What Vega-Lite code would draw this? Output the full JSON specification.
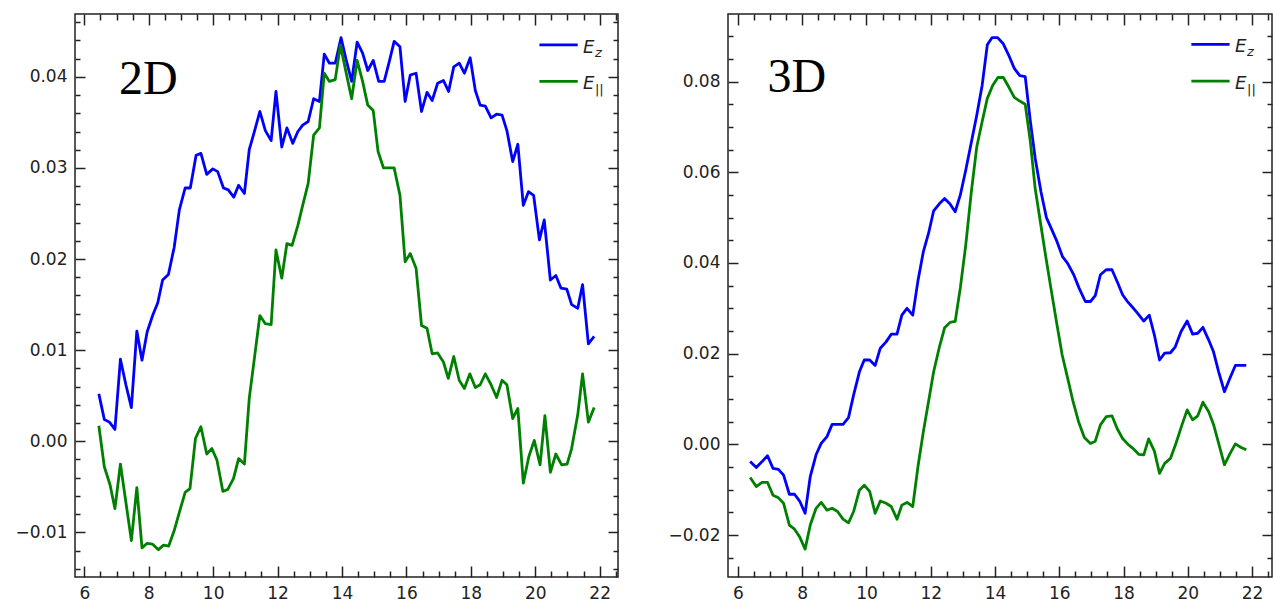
{
"$schema":"https://vega.github.io/schema/vega-lite/v6.json",
"padding":{"left":14,"top":12,"right":0,"bottom":0},
"spacing":47,
"background":"white",
"config":{"view":{"stroke":"#222","strokeWidth":1.5},"axis":{"domain":false,"grid":false,"tickColor":"#222","tickWidth":1.5,"labelFont":"DejaVu Sans","labelFontSize":17,"labelColor":"#222","labelFlush":false,"labelOverlap":false}},
"datasets":{
"d2":[
{"x":6.45,"s":"Ez","y":0.0052},{"x":6.62,"s":"Ez","y":0.0024},{"x":6.78,"s":"Ez","y":0.0021},{"x":6.95,"s":"Ez","y":0.0013},{"x":7.12,"s":"Ez","y":0.009},{"x":7.29,"s":"Ez","y":0.0062},{"x":7.46,"s":"Ez","y":0.0037},{"x":7.63,"s":"Ez","y":0.0121},{"x":7.79,"s":"Ez","y":0.0089},{"x":7.95,"s":"Ez","y":0.012},{"x":8.12,"s":"Ez","y":0.0138},{"x":8.28,"s":"Ez","y":0.0152},{"x":8.43,"s":"Ez","y":0.0177},{"x":8.61,"s":"Ez","y":0.0183},{"x":8.79,"s":"Ez","y":0.0213},{"x":8.95,"s":"Ez","y":0.0254},{"x":9.13,"s":"Ez","y":0.0278},{"x":9.29,"s":"Ez","y":0.0278},{"x":9.47,"s":"Ez","y":0.0314},{"x":9.62,"s":"Ez","y":0.0316},{"x":9.8,"s":"Ez","y":0.0293},{"x":9.99,"s":"Ez","y":0.0299},{"x":10.14,"s":"Ez","y":0.0296},{"x":10.32,"s":"Ez","y":0.0278},{"x":10.47,"s":"Ez","y":0.0276},{"x":10.64,"s":"Ez","y":0.0268},{"x":10.79,"s":"Ez","y":0.0281},{"x":10.97,"s":"Ez","y":0.0272},{"x":11.12,"s":"Ez","y":0.032},{"x":11.28,"s":"Ez","y":0.034},{"x":11.45,"s":"Ez","y":0.0362},{"x":11.62,"s":"Ez","y":0.0341},{"x":11.8,"s":"Ez","y":0.033},{"x":11.95,"s":"Ez","y":0.0384},{"x":12.13,"s":"Ez","y":0.0323},{"x":12.29,"s":"Ez","y":0.0344},{"x":12.47,"s":"Ez","y":0.0327},{"x":12.63,"s":"Ez","y":0.034},{"x":12.78,"s":"Ez","y":0.0347},{"x":12.95,"s":"Ez","y":0.0351},{"x":13.12,"s":"Ez","y":0.0376},{"x":13.3,"s":"Ez","y":0.0373},{"x":13.45,"s":"Ez","y":0.0425},{"x":13.61,"s":"Ez","y":0.0415},{"x":13.79,"s":"Ez","y":0.0415},{"x":13.97,"s":"Ez","y":0.0443},{"x":14.12,"s":"Ez","y":0.042},{"x":14.3,"s":"Ez","y":0.0395},{"x":14.47,"s":"Ez","y":0.0438},{"x":14.64,"s":"Ez","y":0.0426},{"x":14.8,"s":"Ez","y":0.0407},{"x":14.97,"s":"Ez","y":0.0418},{"x":15.14,"s":"Ez","y":0.0395},{"x":15.31,"s":"Ez","y":0.0395},{"x":15.47,"s":"Ez","y":0.0417},{"x":15.62,"s":"Ez","y":0.0439},{"x":15.8,"s":"Ez","y":0.0433},{"x":15.96,"s":"Ez","y":0.0373},{"x":16.12,"s":"Ez","y":0.0402},{"x":16.3,"s":"Ez","y":0.0404},{"x":16.47,"s":"Ez","y":0.0362},{"x":16.64,"s":"Ez","y":0.0383},{"x":16.8,"s":"Ez","y":0.0374},{"x":16.97,"s":"Ez","y":0.0393},{"x":17.15,"s":"Ez","y":0.0396},{"x":17.31,"s":"Ez","y":0.0384},{"x":17.47,"s":"Ez","y":0.0411},{"x":17.64,"s":"Ez","y":0.0415},{"x":17.8,"s":"Ez","y":0.0404},{"x":17.98,"s":"Ez","y":0.0421},{"x":18.14,"s":"Ez","y":0.0385},{"x":18.29,"s":"Ez","y":0.0369},{"x":18.45,"s":"Ez","y":0.0368},{"x":18.63,"s":"Ez","y":0.0355},{"x":18.8,"s":"Ez","y":0.0359},{"x":18.97,"s":"Ez","y":0.0358},{"x":19.12,"s":"Ez","y":0.0341},{"x":19.3,"s":"Ez","y":0.0307},{"x":19.46,"s":"Ez","y":0.0326},{"x":19.63,"s":"Ez","y":0.0259},{"x":19.79,"s":"Ez","y":0.0274},{"x":19.95,"s":"Ez","y":0.027},{"x":20.13,"s":"Ez","y":0.0221},{"x":20.28,"s":"Ez","y":0.0243},{"x":20.47,"s":"Ez","y":0.0177},{"x":20.64,"s":"Ez","y":0.0182},{"x":20.8,"s":"Ez","y":0.0168},{"x":20.98,"s":"Ez","y":0.0167},{"x":21.13,"s":"Ez","y":0.015},{"x":21.32,"s":"Ez","y":0.0146},{"x":21.47,"s":"Ez","y":0.0172},{"x":21.65,"s":"Ez","y":0.0107},{"x":21.83,"s":"Ez","y":0.0115},
{"x":6.45,"s":"Ep","y":0.0017},{"x":6.62,"s":"Ep","y":-0.0028},{"x":6.8,"s":"Ep","y":-0.0048},{"x":6.95,"s":"Ep","y":-0.0074},{"x":7.12,"s":"Ep","y":-0.0025},{"x":7.29,"s":"Ep","y":-0.0067},{"x":7.46,"s":"Ep","y":-0.0109},{"x":7.63,"s":"Ep","y":-0.0051},{"x":7.79,"s":"Ep","y":-0.0117},{"x":7.95,"s":"Ep","y":-0.0112},{"x":8.12,"s":"Ep","y":-0.0113},{"x":8.3,"s":"Ep","y":-0.0119},{"x":8.46,"s":"Ep","y":-0.0114},{"x":8.62,"s":"Ep","y":-0.0115},{"x":8.79,"s":"Ep","y":-0.0098},{"x":8.95,"s":"Ep","y":-0.0078},{"x":9.13,"s":"Ep","y":-0.0056},{"x":9.28,"s":"Ep","y":-0.0052},{"x":9.45,"s":"Ep","y":0.0003},{"x":9.62,"s":"Ep","y":0.0016},{"x":9.8,"s":"Ep","y":-0.0014},{"x":9.96,"s":"Ep","y":-0.0008},{"x":10.12,"s":"Ep","y":-0.0021},{"x":10.3,"s":"Ep","y":-0.0055},{"x":10.45,"s":"Ep","y":-0.0053},{"x":10.63,"s":"Ep","y":-0.0041},{"x":10.79,"s":"Ep","y":-0.0019},{"x":10.97,"s":"Ep","y":-0.0025},{"x":11.12,"s":"Ep","y":0.0047},{"x":11.28,"s":"Ep","y":0.0091},{"x":11.45,"s":"Ep","y":0.0138},{"x":11.62,"s":"Ep","y":0.0129},{"x":11.8,"s":"Ep","y":0.0128},{"x":11.95,"s":"Ep","y":0.021},{"x":12.13,"s":"Ep","y":0.0179},{"x":12.29,"s":"Ep","y":0.0217},{"x":12.45,"s":"Ep","y":0.0215},{"x":12.63,"s":"Ep","y":0.0237},{"x":12.78,"s":"Ep","y":0.0259},{"x":12.95,"s":"Ep","y":0.0283},{"x":13.12,"s":"Ep","y":0.0336},{"x":13.3,"s":"Ep","y":0.0344},{"x":13.45,"s":"Ep","y":0.0404},{"x":13.61,"s":"Ep","y":0.0395},{"x":13.79,"s":"Ep","y":0.0397},{"x":13.95,"s":"Ep","y":0.0435},{"x":14.12,"s":"Ep","y":0.0406},{"x":14.3,"s":"Ep","y":0.0376},{"x":14.47,"s":"Ep","y":0.0418},{"x":14.64,"s":"Ep","y":0.0395},{"x":14.8,"s":"Ep","y":0.0369},{"x":14.97,"s":"Ep","y":0.0363},{"x":15.12,"s":"Ep","y":0.0318},{"x":15.29,"s":"Ep","y":0.03},{"x":15.47,"s":"Ep","y":0.03},{"x":15.62,"s":"Ep","y":0.03},{"x":15.8,"s":"Ep","y":0.027},{"x":15.96,"s":"Ep","y":0.0197},{"x":16.12,"s":"Ep","y":0.0206},{"x":16.3,"s":"Ep","y":0.019},{"x":16.47,"s":"Ep","y":0.0127},{"x":16.64,"s":"Ep","y":0.0124},{"x":16.8,"s":"Ep","y":0.0096},{"x":16.97,"s":"Ep","y":0.0097},{"x":17.15,"s":"Ep","y":0.0087},{"x":17.3,"s":"Ep","y":0.0069},{"x":17.47,"s":"Ep","y":0.0093},{"x":17.64,"s":"Ep","y":0.0067},{"x":17.8,"s":"Ep","y":0.0058},{"x":17.97,"s":"Ep","y":0.0074},{"x":18.14,"s":"Ep","y":0.0059},{"x":18.29,"s":"Ep","y":0.0062},{"x":18.45,"s":"Ep","y":0.0074},{"x":18.63,"s":"Ep","y":0.0062},{"x":18.8,"s":"Ep","y":0.0048},{"x":18.97,"s":"Ep","y":0.0067},{"x":19.12,"s":"Ep","y":0.0062},{"x":19.3,"s":"Ep","y":0.0025},{"x":19.46,"s":"Ep","y":0.0036},{"x":19.63,"s":"Ep","y":-0.0046},{"x":19.8,"s":"Ep","y":-0.0017},{"x":19.97,"s":"Ep","y":0.0001},{"x":20.15,"s":"Ep","y":-0.0026},{"x":20.3,"s":"Ep","y":0.0028},{"x":20.47,"s":"Ep","y":-0.0034},{"x":20.64,"s":"Ep","y":-0.0014},{"x":20.82,"s":"Ep","y":-0.0026},{"x":20.99,"s":"Ep","y":-0.0025},{"x":21.13,"s":"Ep","y":-0.0008},{"x":21.32,"s":"Ep","y":0.0029},{"x":21.47,"s":"Ep","y":0.0074},{"x":21.65,"s":"Ep","y":0.0021},{"x":21.83,"s":"Ep","y":0.0037}
],
"d3":[
{"x":6.38,"s":"Ez","y":-0.0038},{"x":6.57,"s":"Ez","y":-0.0051},{"x":6.75,"s":"Ez","y":-0.0038},{"x":6.92,"s":"Ez","y":-0.0025},{"x":7.09,"s":"Ez","y":-0.0053},{"x":7.26,"s":"Ez","y":-0.0055},{"x":7.42,"s":"Ez","y":-0.0068},{"x":7.6,"s":"Ez","y":-0.011},{"x":7.76,"s":"Ez","y":-0.011},{"x":7.92,"s":"Ez","y":-0.0125},{"x":8.09,"s":"Ez","y":-0.0152},{"x":8.25,"s":"Ez","y":-0.0071},{"x":8.43,"s":"Ez","y":-0.0023},{"x":8.59,"s":"Ez","y":0.0002},{"x":8.77,"s":"Ez","y":0.0017},{"x":8.93,"s":"Ez","y":0.0044},{"x":9.1,"s":"Ez","y":0.0044},{"x":9.27,"s":"Ez","y":0.0044},{"x":9.44,"s":"Ez","y":0.0059},{"x":9.6,"s":"Ez","y":0.0109},{"x":9.78,"s":"Ez","y":0.016},{"x":9.93,"s":"Ez","y":0.0186},{"x":10.1,"s":"Ez","y":0.0186},{"x":10.27,"s":"Ez","y":0.0174},{"x":10.43,"s":"Ez","y":0.0212},{"x":10.61,"s":"Ez","y":0.0226},{"x":10.77,"s":"Ez","y":0.0243},{"x":10.95,"s":"Ez","y":0.0243},{"x":11.1,"s":"Ez","y":0.0285},{"x":11.26,"s":"Ez","y":0.03},{"x":11.44,"s":"Ez","y":0.0285},{"x":11.6,"s":"Ez","y":0.036},{"x":11.77,"s":"Ez","y":0.0425},{"x":11.93,"s":"Ez","y":0.0465},{"x":12.09,"s":"Ez","y":0.0515},{"x":12.26,"s":"Ez","y":0.053},{"x":12.43,"s":"Ez","y":0.0542},{"x":12.6,"s":"Ez","y":0.053},{"x":12.76,"s":"Ez","y":0.0513},{"x":12.92,"s":"Ez","y":0.055},{"x":13.09,"s":"Ez","y":0.0605},{"x":13.26,"s":"Ez","y":0.0665},{"x":13.43,"s":"Ez","y":0.0725},{"x":13.6,"s":"Ez","y":0.0792},{"x":13.76,"s":"Ez","y":0.0881},{"x":13.91,"s":"Ez","y":0.0897},{"x":14.08,"s":"Ez","y":0.0897},{"x":14.25,"s":"Ez","y":0.0884},{"x":14.42,"s":"Ez","y":0.0859},{"x":14.6,"s":"Ez","y":0.0829},{"x":14.77,"s":"Ez","y":0.0813},{"x":14.94,"s":"Ez","y":0.0811},{"x":15.1,"s":"Ez","y":0.0712},{"x":15.25,"s":"Ez","y":0.0631},{"x":15.43,"s":"Ez","y":0.0557},{"x":15.6,"s":"Ez","y":0.05},{"x":15.77,"s":"Ez","y":0.0473},{"x":15.93,"s":"Ez","y":0.0447},{"x":16.1,"s":"Ez","y":0.0414},{"x":16.26,"s":"Ez","y":0.0399},{"x":16.45,"s":"Ez","y":0.0374},{"x":16.62,"s":"Ez","y":0.0344},{"x":16.81,"s":"Ez","y":0.0315},{"x":16.97,"s":"Ez","y":0.0315},{"x":17.12,"s":"Ez","y":0.0328},{"x":17.28,"s":"Ez","y":0.0374},{"x":17.46,"s":"Ez","y":0.0385},{"x":17.64,"s":"Ez","y":0.0385},{"x":17.8,"s":"Ez","y":0.0359},{"x":17.97,"s":"Ez","y":0.033},{"x":18.11,"s":"Ez","y":0.0316},{"x":18.26,"s":"Ez","y":0.0304},{"x":18.44,"s":"Ez","y":0.0289},{"x":18.63,"s":"Ez","y":0.0272},{"x":18.8,"s":"Ez","y":0.0285},{"x":18.96,"s":"Ez","y":0.0241},{"x":19.12,"s":"Ez","y":0.0186},{"x":19.28,"s":"Ez","y":0.0201},{"x":19.46,"s":"Ez","y":0.0202},{"x":19.61,"s":"Ez","y":0.0215},{"x":19.79,"s":"Ez","y":0.0249},{"x":19.98,"s":"Ez","y":0.0272},{"x":20.15,"s":"Ez","y":0.0243},{"x":20.31,"s":"Ez","y":0.0245},{"x":20.47,"s":"Ez","y":0.0258},{"x":20.65,"s":"Ez","y":0.023},{"x":20.8,"s":"Ez","y":0.0204},{"x":20.96,"s":"Ez","y":0.016},{"x":21.14,"s":"Ez","y":0.0116},{"x":21.3,"s":"Ez","y":0.0144},{"x":21.48,"s":"Ez","y":0.0174},{"x":21.66,"s":"Ez","y":0.0174},{"x":21.82,"s":"Ez","y":0.0174},
{"x":6.38,"s":"Ep","y":-0.0073},{"x":6.57,"s":"Ep","y":-0.0093},{"x":6.75,"s":"Ep","y":-0.0084},{"x":6.92,"s":"Ep","y":-0.0084},{"x":7.09,"s":"Ep","y":-0.0112},{"x":7.26,"s":"Ep","y":-0.0118},{"x":7.42,"s":"Ep","y":-0.013},{"x":7.6,"s":"Ep","y":-0.0178},{"x":7.76,"s":"Ep","y":-0.0187},{"x":7.92,"s":"Ep","y":-0.0204},{"x":8.09,"s":"Ep","y":-0.0231},{"x":8.25,"s":"Ep","y":-0.0178},{"x":8.43,"s":"Ep","y":-0.0141},{"x":8.59,"s":"Ep","y":-0.0128},{"x":8.77,"s":"Ep","y":-0.0145},{"x":8.93,"s":"Ep","y":-0.0141},{"x":9.1,"s":"Ep","y":-0.0148},{"x":9.27,"s":"Ep","y":-0.0165},{"x":9.44,"s":"Ep","y":-0.0173},{"x":9.6,"s":"Ep","y":-0.0148},{"x":9.78,"s":"Ep","y":-0.0101},{"x":9.93,"s":"Ep","y":-0.009},{"x":10.1,"s":"Ep","y":-0.0104},{"x":10.27,"s":"Ep","y":-0.0152},{"x":10.43,"s":"Ep","y":-0.0125},{"x":10.61,"s":"Ep","y":-0.013},{"x":10.77,"s":"Ep","y":-0.0137},{"x":10.95,"s":"Ep","y":-0.0165},{"x":11.1,"s":"Ep","y":-0.0134},{"x":11.26,"s":"Ep","y":-0.0128},{"x":11.44,"s":"Ep","y":-0.0137},{"x":11.6,"s":"Ep","y":-0.005},{"x":11.77,"s":"Ep","y":0.0028},{"x":11.93,"s":"Ep","y":0.0094},{"x":12.09,"s":"Ep","y":0.016},{"x":12.26,"s":"Ep","y":0.0212},{"x":12.43,"s":"Ep","y":0.0257},{"x":12.6,"s":"Ep","y":0.0269},{"x":12.76,"s":"Ep","y":0.0271},{"x":12.92,"s":"Ep","y":0.0345},{"x":13.09,"s":"Ep","y":0.044},{"x":13.26,"s":"Ep","y":0.0555},{"x":13.43,"s":"Ep","y":0.0655},{"x":13.6,"s":"Ep","y":0.0712},{"x":13.76,"s":"Ep","y":0.0763},{"x":13.93,"s":"Ep","y":0.0792},{"x":14.09,"s":"Ep","y":0.0809},{"x":14.26,"s":"Ep","y":0.0809},{"x":14.42,"s":"Ep","y":0.0789},{"x":14.6,"s":"Ep","y":0.0765},{"x":14.77,"s":"Ep","y":0.0757},{"x":14.94,"s":"Ep","y":0.075},{"x":15.1,"s":"Ep","y":0.0667},{"x":15.25,"s":"Ep","y":0.0564},{"x":15.41,"s":"Ep","y":0.0491},{"x":15.57,"s":"Ep","y":0.0418},{"x":15.74,"s":"Ep","y":0.0344},{"x":15.93,"s":"Ep","y":0.0263},{"x":16.09,"s":"Ep","y":0.0197},{"x":16.26,"s":"Ep","y":0.0146},{"x":16.43,"s":"Ep","y":0.0094},{"x":16.6,"s":"Ep","y":0.005},{"x":16.78,"s":"Ep","y":0.0015},{"x":16.97,"s":"Ep","y":0.0002},{"x":17.12,"s":"Ep","y":0.0007},{"x":17.28,"s":"Ep","y":0.0043},{"x":17.46,"s":"Ep","y":0.0061},{"x":17.64,"s":"Ep","y":0.0063},{"x":17.8,"s":"Ep","y":0.0035},{"x":17.97,"s":"Ep","y":0.0013},{"x":18.14,"s":"Ep","y":0.0},{"x":18.31,"s":"Ep","y":-0.001},{"x":18.47,"s":"Ep","y":-0.0022},{"x":18.63,"s":"Ep","y":-0.0023},{"x":18.78,"s":"Ep","y":0.0012},{"x":18.96,"s":"Ep","y":-0.0015},{"x":19.12,"s":"Ep","y":-0.0064},{"x":19.28,"s":"Ep","y":-0.0042},{"x":19.46,"s":"Ep","y":-0.0031},{"x":19.63,"s":"Ep","y":0.0002},{"x":19.8,"s":"Ep","y":0.0039},{"x":19.98,"s":"Ep","y":0.0076},{"x":20.15,"s":"Ep","y":0.0054},{"x":20.31,"s":"Ep","y":0.0063},{"x":20.47,"s":"Ep","y":0.0093},{"x":20.65,"s":"Ep","y":0.0072},{"x":20.8,"s":"Ep","y":0.0044},{"x":20.96,"s":"Ep","y":0.0002},{"x":21.14,"s":"Ep","y":-0.0045},{"x":21.3,"s":"Ep","y":-0.0022},{"x":21.48,"s":"Ep","y":0.0001},{"x":21.66,"s":"Ep","y":-0.0007},{"x":21.82,"s":"Ep","y":-0.0012}
],
"leg2":[{"s":"Ez","x":20.13,"x2":21.32,"y":0.0435,"tx":21.48,"sub":"z"},{"s":"Ep","x":20.13,"x2":21.32,"y":0.0395,"tx":21.48,"sub":"||"}],
"leg3":[{"s":"Ez","x":20.11,"x2":21.3,"y":0.0882,"tx":21.47,"sub":"z"},{"s":"Ep","x":20.11,"x2":21.3,"y":0.0801,"tx":21.47,"sub":"||"}],
"ann2":[{"x":7.08,"y":0.0381,"t":"2D"}],
"ann3":[{"x":6.92,"y":0.0778,"t":"3D"}]
},
"hconcat":[
{
"width":543,"height":563,
"resolve":{"axis":{"x":"independent","y":"independent"}},
"layer":[
{"data":{"name":"d2"},"mark":{"type":"line","strokeWidth":2.8,"strokeJoin":"round"},
"encoding":{
"x":{"field":"x","type":"quantitative","scale":{"domain":[5.71,22.57],"nice":false,"zero":false},"axis":{"orient":"bottom","title":null,"values":[6,8,10,12,14,16,18,20,22],"format":"d","tickSize":-11,"labelPadding":19}},
"y":{"field":"y","type":"quantitative","scale":{"domain":[-0.0149,0.0469],"nice":false,"zero":false},"axis":{"orient":"left","title":null,"values":[-0.01,0,0.01,0.02,0.03,0.04],"format":".2f","tickSize":-10,"labelPadding":18}},
"color":{"field":"s","type":"nominal","scale":{"domain":["Ez","Ep"],"range":["#0000ff","#008000"]},"legend":null}}},
{"data":{"name":"leg2"},"mark":{"type":"rule","strokeWidth":2.8},
"encoding":{
"x":{"field":"x","type":"quantitative","scale":{"domain":[5.71,22.57],"nice":false,"zero":false},"axis":{"orient":"bottom","title":null,"labels":false,"values":[6.5,7,7.5,8.5,9,9.5,10.5,11,11.5,12.5,13,13.5,14.5,15,15.5,16.5,17,17.5,18.5,19,19.5,20.5,21,21.5,22.5],"tickSize":-6}},
"x2":{"field":"x2"},
"y":{"field":"y","type":"quantitative","scale":{"domain":[-0.0149,0.0469],"nice":false,"zero":false},"axis":{"orient":"left","title":null,"labels":false,"values":[-0.014,-0.012,-0.008,-0.006,-0.004,-0.002,0.002,0.004,0.006,0.008,0.012,0.014,0.016,0.018,0.022,0.024,0.026,0.028,0.032,0.034,0.036,0.038,0.042,0.044,0.046],"tickSize":-5}},
"color":{"field":"s","type":"nominal","scale":{"domain":["Ez","Ep"],"range":["#0000ff","#008000"]},"legend":null}}},
{"data":{"name":"leg2"},"mark":{"type":"text","text":"E","font":"DejaVu Sans","fontStyle":"italic","fontSize":18,"align":"left","baseline":"middle","dy":3,"color":"#222"},
"encoding":{
"x":{"field":"tx","type":"quantitative","scale":{"domain":[5.71,22.57],"nice":false,"zero":false},"axis":{"orient":"top","title":null,"labels":false,"values":[6,8,10,12,14,16,18,20,22],"tickSize":-11}},
"y":{"field":"y","type":"quantitative","scale":{"domain":[-0.0149,0.0469],"nice":false,"zero":false},"axis":{"orient":"right","title":null,"labels":false,"values":[-0.01,0,0.01,0.02,0.03,0.04],"tickSize":-10}}}},
{"data":{"name":"leg2"},"transform":[{"filter":"datum.sub == 'z'"}],"mark":{"type":"text","font":"DejaVu Sans","fontStyle":"italic","fontSize":13,"align":"left","baseline":"middle","dx":12,"dy":8,"color":"#222"},
"encoding":{
"text":{"field":"sub"},
"x":{"field":"tx","type":"quantitative","scale":{"domain":[5.71,22.57],"nice":false,"zero":false},"axis":{"orient":"top","title":null,"labels":false,"values":[6.5,7,7.5,8.5,9,9.5,10.5,11,11.5,12.5,13,13.5,14.5,15,15.5,16.5,17,17.5,18.5,19,19.5,20.5,21,21.5,22.5],"tickSize":-6}},
"y":{"field":"y","type":"quantitative","scale":{"domain":[-0.0149,0.0469],"nice":false,"zero":false},"axis":{"orient":"right","title":null,"labels":false,"values":[-0.014,-0.012,-0.008,-0.006,-0.004,-0.002,0.002,0.004,0.006,0.008,0.012,0.014,0.016,0.018,0.022,0.024,0.026,0.028,0.032,0.034,0.036,0.038,0.042,0.044,0.046],"tickSize":-5}}}},
{"data":{"name":"leg2"},"transform":[{"filter":"datum.sub == '||'"}],"mark":{"type":"text","font":"DejaVu Sans","fontSize":13,"align":"left","baseline":"middle","dx":12,"dy":9,"color":"#222"},
"encoding":{
"text":{"field":"sub"},
"x":{"field":"tx","type":"quantitative","scale":{"domain":[5.71,22.57],"nice":false,"zero":false},"axis":null},
"y":{"field":"y","type":"quantitative","scale":{"domain":[-0.0149,0.0469],"nice":false,"zero":false},"axis":null}}},
{"data":{"name":"ann2"},"mark":{"type":"text","font":"Liberation Serif","fontSize":48,"align":"left","baseline":"alphabetic","color":"#000"},
"encoding":{
"text":{"field":"t"},
"x":{"field":"x","type":"quantitative","scale":{"domain":[5.71,22.57],"nice":false,"zero":false},"axis":null},
"y":{"field":"y","type":"quantitative","scale":{"domain":[-0.0149,0.0469],"nice":false,"zero":false},"axis":null}}}
]
},
{
"width":544,"height":563,
"resolve":{"axis":{"x":"independent","y":"independent"}},
"layer":[
{"data":{"name":"d3"},"mark":{"type":"line","strokeWidth":2.8,"strokeJoin":"round"},
"encoding":{
"x":{"field":"x","type":"quantitative","scale":{"domain":[5.69,22.62],"nice":false,"zero":false},"axis":{"orient":"bottom","title":null,"values":[6,8,10,12,14,16,18,20,22],"format":"d","tickSize":-11,"labelPadding":19}},
"y":{"field":"y","type":"quantitative","scale":{"domain":[-0.02925,0.0949],"nice":false,"zero":false},"axis":{"orient":"left","title":null,"values":[-0.02,0,0.02,0.04,0.06,0.08],"format":".2f","tickSize":-10,"labelPadding":18}},
"color":{"field":"s","type":"nominal","scale":{"domain":["Ez","Ep"],"range":["#0000ff","#008000"]},"legend":null}}},
{"data":{"name":"leg3"},"mark":{"type":"rule","strokeWidth":2.8},
"encoding":{
"x":{"field":"x","type":"quantitative","scale":{"domain":[5.69,22.62],"nice":false,"zero":false},"axis":{"orient":"bottom","title":null,"labels":false,"values":[6.5,7,7.5,8.5,9,9.5,10.5,11,11.5,12.5,13,13.5,14.5,15,15.5,16.5,17,17.5,18.5,19,19.5,20.5,21,21.5,22.5],"tickSize":-6}},
"x2":{"field":"x2"},
"y":{"field":"y","type":"quantitative","scale":{"domain":[-0.02925,0.0949],"nice":false,"zero":false},"axis":{"orient":"left","title":null,"labels":false,"values":[-0.025,-0.015,-0.01,-0.005,0.005,0.01,0.015,0.025,0.03,0.035,0.045,0.05,0.055,0.065,0.07,0.075,0.085,0.09],"tickSize":-5}},
"color":{"field":"s","type":"nominal","scale":{"domain":["Ez","Ep"],"range":["#0000ff","#008000"]},"legend":null}}},
{"data":{"name":"leg3"},"mark":{"type":"text","text":"E","font":"DejaVu Sans","fontStyle":"italic","fontSize":18,"align":"left","baseline":"middle","dy":3,"color":"#222"},
"encoding":{
"x":{"field":"tx","type":"quantitative","scale":{"domain":[5.69,22.62],"nice":false,"zero":false},"axis":{"orient":"top","title":null,"labels":false,"values":[6,8,10,12,14,16,18,20,22],"tickSize":-11}},
"y":{"field":"y","type":"quantitative","scale":{"domain":[-0.02925,0.0949],"nice":false,"zero":false},"axis":{"orient":"right","title":null,"labels":false,"values":[-0.02,0,0.02,0.04,0.06,0.08],"tickSize":-10}}}},
{"data":{"name":"leg3"},"transform":[{"filter":"datum.sub == 'z'"}],"mark":{"type":"text","font":"DejaVu Sans","fontStyle":"italic","fontSize":13,"align":"left","baseline":"middle","dx":12,"dy":8,"color":"#222"},
"encoding":{
"text":{"field":"sub"},
"x":{"field":"tx","type":"quantitative","scale":{"domain":[5.69,22.62],"nice":false,"zero":false},"axis":{"orient":"top","title":null,"labels":false,"values":[6.5,7,7.5,8.5,9,9.5,10.5,11,11.5,12.5,13,13.5,14.5,15,15.5,16.5,17,17.5,18.5,19,19.5,20.5,21,21.5,22.5],"tickSize":-6}},
"y":{"field":"y","type":"quantitative","scale":{"domain":[-0.02925,0.0949],"nice":false,"zero":false},"axis":{"orient":"right","title":null,"labels":false,"values":[-0.025,-0.015,-0.01,-0.005,0.005,0.01,0.015,0.025,0.03,0.035,0.045,0.05,0.055,0.065,0.07,0.075,0.085,0.09],"tickSize":-5}}}},
{"data":{"name":"leg3"},"transform":[{"filter":"datum.sub == '||'"}],"mark":{"type":"text","font":"DejaVu Sans","fontSize":13,"align":"left","baseline":"middle","dx":12,"dy":9,"color":"#222"},
"encoding":{
"text":{"field":"sub"},
"x":{"field":"tx","type":"quantitative","scale":{"domain":[5.69,22.62],"nice":false,"zero":false},"axis":null},
"y":{"field":"y","type":"quantitative","scale":{"domain":[-0.02925,0.0949],"nice":false,"zero":false},"axis":null}}},
{"data":{"name":"ann3"},"mark":{"type":"text","font":"Liberation Serif","fontSize":48,"align":"left","baseline":"alphabetic","color":"#000"},
"encoding":{
"text":{"field":"t"},
"x":{"field":"x","type":"quantitative","scale":{"domain":[5.69,22.62],"nice":false,"zero":false},"axis":null},
"y":{"field":"y","type":"quantitative","scale":{"domain":[-0.02925,0.0949],"nice":false,"zero":false},"axis":null}}}
]
}
]
}
